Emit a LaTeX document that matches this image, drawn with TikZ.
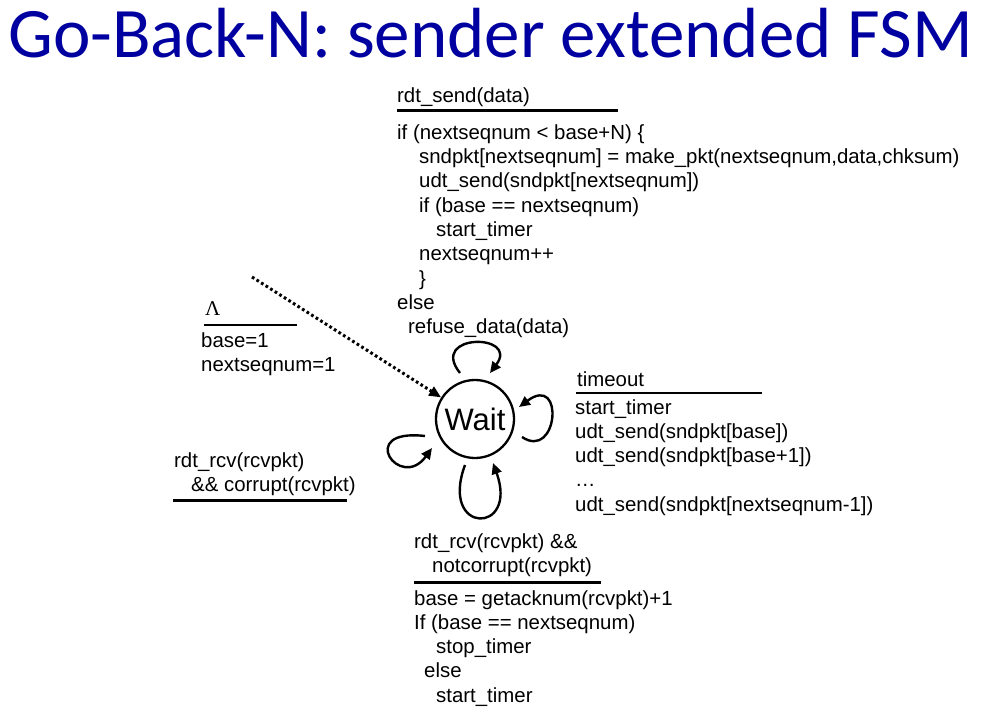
\documentclass[tikz,border=0pt]{standalone}
\usepackage{fontspec}
\setmainfont{Liberation Sans}
\newfontfamily\titlefont{Carlito}
\newfontfamily\greekserif{Liberation Serif}
\usetikzlibrary{arrows.meta}
\definecolor{titleblue}{RGB}{0,0,160}
\begin{document}
\begin{tikzpicture}[x=1pt,y=-1pt,
  txt/.style={anchor=base west, inner sep=0pt, font=\fontsize{20.4}{24.3}\selectfont},
  rule/.style={line width=2.8pt},
  state/.style={circle, draw, line width=2.3pt, minimum size=78pt, inner sep=0pt,
                font=\fontsize{31}{36}\selectfont},
  selfloop/.style={line width=2.4pt, -{Triangle[length=11pt,width=10pt]}},
  initarrow/.style={line width=3pt, dash pattern=on 2.7pt off 2.7pt,
                    -{Triangle[length=12pt,width=10pt]}}
]
\useasboundingbox (0,0) rectangle (995,714);

% title
\node[anchor=base west, inner sep=0pt, text=titleblue,
      font=\titlefont\fontsize{71}{80}\selectfont] (title) at (8,58) {Go-Back-N: sender extended FSM};

% the single state
\node[state] (wait) at (475,419) {Wait};

% initial transition
\coordinate (init) at (252,277);
\draw[initarrow] (init) -- (wait);
\node[anchor=base west, inner sep=0pt, font=\greekserif\fontsize{21}{24}\selectfont] (lam) at (205,315) {Λ};
\coordinate (ia) at (204,325);
\coordinate (ib) at (297,325);
\draw[rule] (ia) -- (ib);
\node[txt] (i1) at (201,347.5) {base=1};
\node[txt] (i2) at (201,371.8) {nextseqnum=1};

% rdt_send event
\node[txt] (s0) at (397,102.5) {rdt\_send(data)};
\coordinate (sa) at (397,110.7);
\coordinate (sb) at (618,110.7);
\draw[rule] (sa) -- (sb);
\node[txt] (s1) at (397,139.3) {if (nextseqnum < base+N) \{};
\node[txt] (s2) at (419,163.6) {sndpkt[nextseqnum] = make\_pkt(nextseqnum,data,chksum)};
\node[txt] (s3) at (419,187.9) {udt\_send(sndpkt[nextseqnum])};
\node[txt] (s4) at (419,212.2) {if (base == nextseqnum)};
\node[txt] (s5) at (436,236.5) {start\_timer};
\node[txt] (s6) at (419,260.8) {nextseqnum++};
\node[txt] (s7) at (419,285.1) {\}};
\node[txt] (s8) at (397,309.4) {else};
\node[txt] (s9) at (408,333.7) {refuse\_data(data)};

% timeout event
\node[txt] (t0) at (577,386.7) {timeout};
\coordinate (ta) at (576,393);
\coordinate (tb) at (762,393);
\draw[rule] (ta) -- (tb);
\node[txt] (t1) at (575,414) {start\_timer};
\node[txt] (t2) at (575,438.3) {udt\_send(sndpkt[base])};
\node[txt] (t3) at (575,462.6) {udt\_send(sndpkt[base+1])};
\node[txt] (t4) at (575,486.9) {…};
\node[txt] (t5) at (575,511.2) {udt\_send(sndpkt[nextseqnum-1])};

% corrupt ack
\node[txt] (c1) at (174,467.5) {rdt\_rcv(rcvpkt)};
\node[txt] (c2) at (191,491.8) {\&\& corrupt(rcvpkt)};
\coordinate (ca) at (173,500.7);
\coordinate (cb) at (347,500.7);
\draw[rule] (ca) -- (cb);

% good ack
\node[txt] (a1) at (414,548.3) {rdt\_rcv(rcvpkt) \&\&};
\node[txt] (a2) at (432,572.6) {notcorrupt(rcvpkt)};
\coordinate (aa) at (414,582.3);
\coordinate (ab) at (601,582.3);
\draw[rule] (aa) -- (ab);
\node[txt] (a3) at (414,605) {base = getacknum(rcvpkt)+1};
\node[txt] (a4) at (414,629.3) {If (base == nextseqnum)};
\node[txt] (a5) at (436,653.6) {stop\_timer};
\node[txt] (a6) at (424,677.9) {else};
\node[txt] (a7) at (436,702.2) {start\_timer};

% self loops around the state
\draw[selfloop] ([shift={(-15,-46)}]wait.center)
   .. controls +(-32,-40) and +(30,-40) .. ([shift={(15,-46)}]wait.center);
\draw[selfloop] ([shift={(47,18)}]wait.center)
   .. controls +(36,24) and +(46,-34) .. ([shift={(44,-12)}]wait.center);
\draw[selfloop] ([shift={(-50,17)}]wait.center)
   .. controls +(-70,-8) and +(-32,44) .. ([shift={(-43,29)}]wait.center);
\draw[selfloop] ([shift={(-10,46)}]wait.center)
   .. controls +(-26,70) and +(26,72) .. ([shift={(18,44)}]wait.center);
\end{tikzpicture}
\end{document}
